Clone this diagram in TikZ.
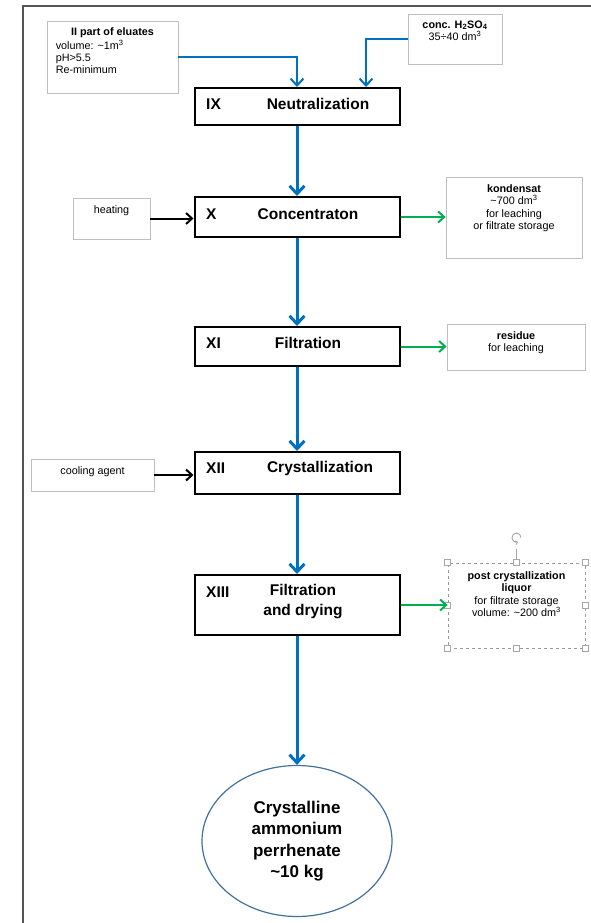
\documentclass[tikz,border=0pt]{standalone}
\usepackage{fontspec}
\setmainfont{Liberation Sans}
\usetikzlibrary{arrows.meta,positioning,shapes.geometric}
\definecolor{flowblue}{RGB}{0,112,192}
\definecolor{flowgreen}{RGB}{0,176,80}
\definecolor{framegray}{RGB}{85,85,85}
\definecolor{boxgray}{RGB}{191,191,191}
\definecolor{productblue}{RGB}{65,113,156}
\newcommand\notesize{\fontsize{10.8}{12.2}\selectfont}

\begin{document}
\begin{tikzpicture}[x=1pt,y=-1pt,
  stage/.style={draw,line width=2pt,minimum width=205pt,inner sep=0pt},
  note/.style={draw=boxgray,line width=0.8pt,inner sep=0pt},
  notetext/.style={font=\notesize,align=center,inner sep=0pt},
  num/.style={font=\fontsize{15.5}{18}\selectfont\bfseries,inner sep=0pt,anchor=west},
  title/.style={font=\fontsize{15.5}{20}\selectfont\bfseries,align=center,inner sep=0pt},
  mainflow/.style={draw=flowblue,line width=3pt,-{Straight Barb[length=8pt,width=15pt]}},
  inflow/.style={draw=flowblue,line width=2pt,-{Straight Barb[length=7pt,width=13pt]}},
  feed/.style={line width=2pt,-{Straight Barb[length=6pt,width=11pt]}},
  outflow/.style={draw=flowgreen,line width=2pt,-{Straight Barb[length=6pt,width=11pt]}},
  grip/.style={draw=gray!70,fill=white,line width=0.6pt,minimum size=6pt,inner sep=0pt}
]
\useasboundingbox (0,0) rectangle (591,923);
\draw[framegray,line width=2pt] (23,923) -- (23,6) -- (591,6);

% process stages
\node[stage,minimum height=37pt] (IX) at (297,106.5) {};
\node[num] at (206,104) {IX};
\node[title] at (318,104) {Neutralization};

\node[stage,minimum height=40pt] (X) at (297,217) {};
\node[num] at (206,214) {X};
\node[title] at (308,214) {Concentraton};

\node[stage,minimum height=39pt] (XI) at (297,346.5) {};
\node[num] at (206,343) {XI};
\node[title] at (308,343) {Filtration};

\node[stage,minimum height=42pt] (XII) at (297,473) {};
\node[num] at (206,468) {XII};
\node[title] at (320,468) {Crystallization};

\node[stage,minimum height=60pt] (XIII) at (297,605) {};
\node[num] at (206,592) {XIII};
\node[title] at (303,602) {Filtration\\and drying};

\node[draw=productblue,line width=1.2pt,ellipse,minimum width=190pt,minimum height=151pt,
  inner sep=0pt,align=center,font=\fontsize{17}{21.5}\selectfont\bfseries] (product) at (297,841)
  {Crystalline\\ammonium\\perrhenate\\\textasciitilde10 kg};

% inputs and outputs
\node[note,minimum width=131pt,minimum height=72pt] (eluates) at (112.5,57) {};
\node[notetext,font=\notesize\bfseries,below=7pt of eluates.north] {II part of eluates};
\node[notetext,align=left,below right=19.5pt and 9pt of eluates.north west]
  {volume: \textasciitilde1m\textsuperscript{3}\\pH>5.5\\Re-minimum};

\node[note,minimum width=94pt,minimum height=50pt] (acid) at (455,39) {};
\node[notetext,below=7pt of acid.north]
  {\textbf{conc. H\textsubscript{2}SO\textsubscript{4}}\\35÷40 dm\textsuperscript{3}};

\node[note,minimum width=77pt,minimum height=41pt] (heating) at (111.5,218.5) {};
\node[notetext,below=8pt of heating.north] {heating};

\node[note,minimum width=136pt,minimum height=81pt] (kondensat) at (514,217.5) {};
\node[notetext,below=8pt of kondensat.north]
  {\textbf{kondensat}\\\textasciitilde700 dm\textsuperscript{3}\\for leaching\\or filtrate storage};

\node[note,minimum width=138pt,minimum height=46pt] (residue) at (516,347) {};
\node[notetext,below=8pt of residue.north] {\textbf{residue}\\for leaching};

\node[note,minimum width=123pt,minimum height=32pt] (cooling) at (92.5,475) {};
\node[notetext,below=8pt of cooling.north] {cooling agent};

\node[note,draw=gray!80,dashed,minimum width=137pt,minimum height=85pt] (liquor) at (516.5,605.5) {};
\node[notetext,below=9pt of liquor.north]
  {\textbf{post crystallization}\\\textbf{liquor}\\for filtrate storage\\volume: \textasciitilde200 dm\textsuperscript{3}};
\draw[gray!70,line width=0.6pt] (liquor.north) -- ++(0,-14);
\draw[gray!70,line width=0.9pt,-{Straight Barb[length=2pt,width=4pt]}]
  ([xshift=4.5pt,yshift=25pt]liquor.north) arc[start angle=0,end angle=290,radius=4.5pt];
\foreach \a in {north west,north,north east,east,south east,south,south west,west}
  \node[grip] at (liquor.\a) {};

% connectors
\draw[inflow] (eluates.east) -| (IX.north);
\draw[inflow] (acid.west) -| ([xshift=69pt]IX.north);
\draw[mainflow] (IX) -- (X);
\draw[mainflow] (X) -- (XI);
\draw[mainflow] (XI) -- (XII);
\draw[mainflow] (XII) -- (XIII);
\draw[mainflow] (XIII) -- (product);
\draw[feed] (heating.east) -- (heating.east -| X.west);
\draw[feed] (cooling.east) -- (cooling.east -| XII.west);
\draw[outflow] (X.east) -- (X.east -| kondensat.west);
\draw[outflow] (XI.east) -- (XI.east -| residue.west);
\draw[outflow] (XIII.east) -- (XIII.east -| liquor.west);
\end{tikzpicture}
\end{document}
